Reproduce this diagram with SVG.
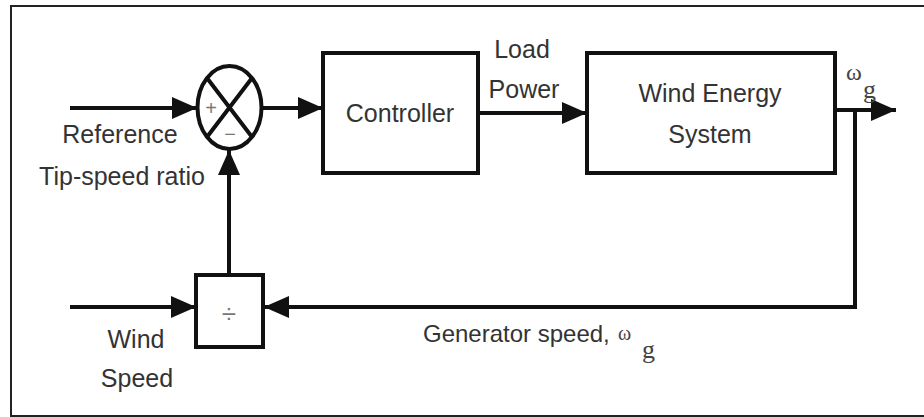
<svg xmlns="http://www.w3.org/2000/svg" width="924" height="417" viewBox="0 0 924 417">
<style>
.frame{fill:#fff;stroke:#222;stroke-width:2}
.blk{fill:#fff;stroke:#111;stroke-width:4}
.wire{fill:none;stroke:#111;stroke-width:4}
.lbl{font-family:"Liberation Sans",Arial,sans-serif;font-size:25px;fill:#333}
.sym{font-family:"Liberation Sans",Arial,sans-serif;font-size:20px;fill:#777}
.grk{font-family:"Liberation Serif","Times New Roman",serif;fill:#444}
</style>
<defs>
<marker id="ah" markerUnits="userSpaceOnUse" markerWidth="26" markerHeight="22" refX="25" refY="11" orient="auto">
<path d="M0,0 L25,11 L0,22 z" fill="#111"/>
</marker>
</defs>
<rect class="frame" x="11" y="6" width="930" height="410"/>
<g id="connectors">
<path class="wire" d="M70,108 H197" marker-end="url(#ah)"/>
<path class="wire" d="M262,108 H323" marker-end="url(#ah)"/>
<path class="wire" d="M478,113 H587" marker-end="url(#ah)"/>
<path class="wire" d="M835,110 H896" marker-end="url(#ah)"/>
<path class="wire" d="M855,110 V307 H264" marker-end="url(#ah)"/>
<path class="wire" d="M70,307 H196" marker-end="url(#ah)"/>
<path class="wire" d="M229,275 V150" marker-end="url(#ah)"/>
</g>
<g id="sum">
<ellipse class="blk" cx="229.5" cy="107.5" rx="32" ry="41.5"/>
<path class="wire" d="M207,78 L252,137 M252,78 L207,137" stroke-width="3.5"/>
<text class="sym" x="211" y="115" text-anchor="middle">+</text>
<text class="sym" x="230" y="141" text-anchor="middle">−</text>
</g>
<g id="controller">
<rect class="blk" x="323" y="53" width="155" height="120"/>
<text class="lbl" x="400" y="122" text-anchor="middle">Controller</text>
</g>
<g id="wes">
<rect class="blk" x="587" y="53" width="248" height="120"/>
<text class="lbl" x="710" y="102" text-anchor="middle">Wind Energy</text>
<text class="lbl" x="710" y="143" text-anchor="middle">System</text>
</g>
<g id="divide">
<rect class="blk" x="196" y="275" width="67" height="72"/>
<text class="sym" x="229" y="323" text-anchor="middle" style="font-size:26px">÷</text>
</g>
<g id="labels">
<text class="lbl" x="522" y="58" text-anchor="middle">Load</text>
<text class="lbl" x="524" y="98" text-anchor="middle">Power</text>
<text class="lbl" x="120" y="143" text-anchor="middle">Reference</text>
<text class="lbl" x="122" y="185" text-anchor="middle">Tip-speed ratio</text>
<text class="lbl" x="136" y="348" text-anchor="middle">Wind</text>
<text class="lbl" x="137" y="387" text-anchor="middle">Speed</text>
<text class="lbl" x="423" y="342" style="font-size:24px">Generator speed,</text>
<text class="grk" x="618" y="340" style="font-size:20px">ω</text>
<text class="grk" x="642" y="358" style="font-size:26px">g</text>
<text class="grk" x="846" y="80" style="font-size:24px">ω</text>
<text class="grk" x="863" y="98" style="font-size:26px">g</text>
</g>
</svg>
